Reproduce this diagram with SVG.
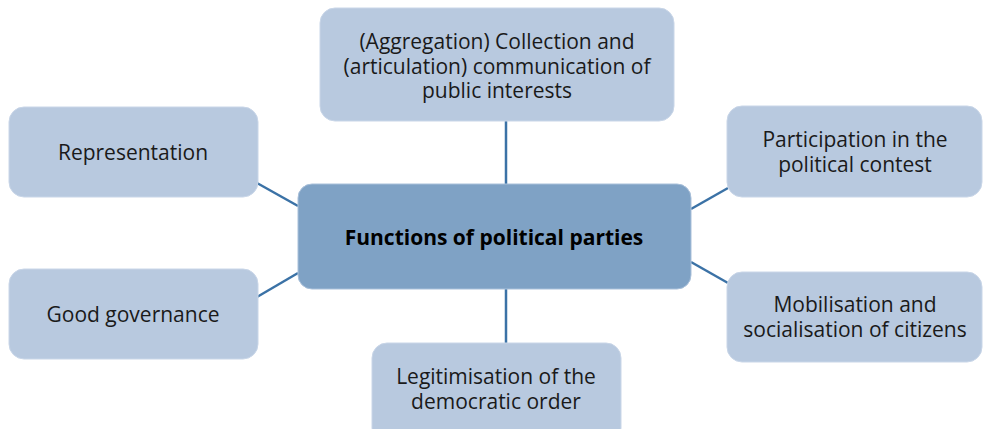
<svg xmlns="http://www.w3.org/2000/svg" width="983" height="429" viewBox="0 0 983 429">
<style>
.box{fill:#b8c9df;stroke:#c9d6e8;stroke-width:1}
.hub{fill:#7fa2c5;stroke:#a9c0da;stroke-width:1}
.t{font-family:"Open Sans","Noto Sans",sans-serif;font-size:21px;fill:#1a1a1a;text-anchor:middle}
.tb{font-family:"Open Sans","Noto Sans",sans-serif;font-size:21px;font-weight:bold;fill:#000;text-anchor:middle}
.c{stroke:#3b72a6;stroke-width:2.5;fill:none}
</style>
<rect width="983" height="429" fill="#fff"/>
<g id="connectors">
<line class="c" x1="506" y1="121" x2="506" y2="184"/>
<line class="c" x1="506" y1="289" x2="506" y2="343"/>
<line class="c" x1="257" y1="183" x2="298" y2="206"/>
<line class="c" x1="257" y1="297" x2="298" y2="273"/>
<line class="c" x1="691" y1="209" x2="728" y2="188"/>
<line class="c" x1="691" y1="262" x2="728" y2="283"/>
</g>
<g id="top">
<rect class="box" x="320" y="8" width="354" height="113" rx="15"/>
<text class="t" x="497" y="49">(Aggregation) Collection and</text>
<text class="t" x="497" y="74">(articulation) communication of</text>
<text class="t" x="497" y="98">public interests</text>
</g>
<g id="representation">
<rect class="box" x="9" y="107" width="249" height="90" rx="15"/>
<text class="t" x="133" y="160">Representation</text>
</g>
<g id="participation">
<rect class="box" x="727" y="106" width="255" height="91" rx="15"/>
<text class="t" x="855" y="147">Participation in the</text>
<text class="t" x="855" y="172">political contest</text>
</g>
<g id="hub">
<rect class="hub" x="298" y="184" width="393" height="105" rx="14"/>
<text class="tb" x="494" y="245">Functions of political parties</text>
</g>
<g id="governance">
<rect class="box" x="9" y="269" width="249" height="90" rx="15"/>
<text class="t" x="133" y="322">Good governance</text>
</g>
<g id="mobilisation">
<rect class="box" x="727" y="272" width="255" height="90" rx="15"/>
<text class="t" x="855" y="312">Mobilisation and</text>
<text class="t" x="855" y="337">socialisation of citizens</text>
</g>
<g id="legitimisation">
<rect class="box" x="372" y="343" width="249" height="100" rx="15"/>
<text class="t" x="496" y="384">Legitimisation of the</text>
<text class="t" x="496" y="409">democratic order</text>
</g>
</svg>
